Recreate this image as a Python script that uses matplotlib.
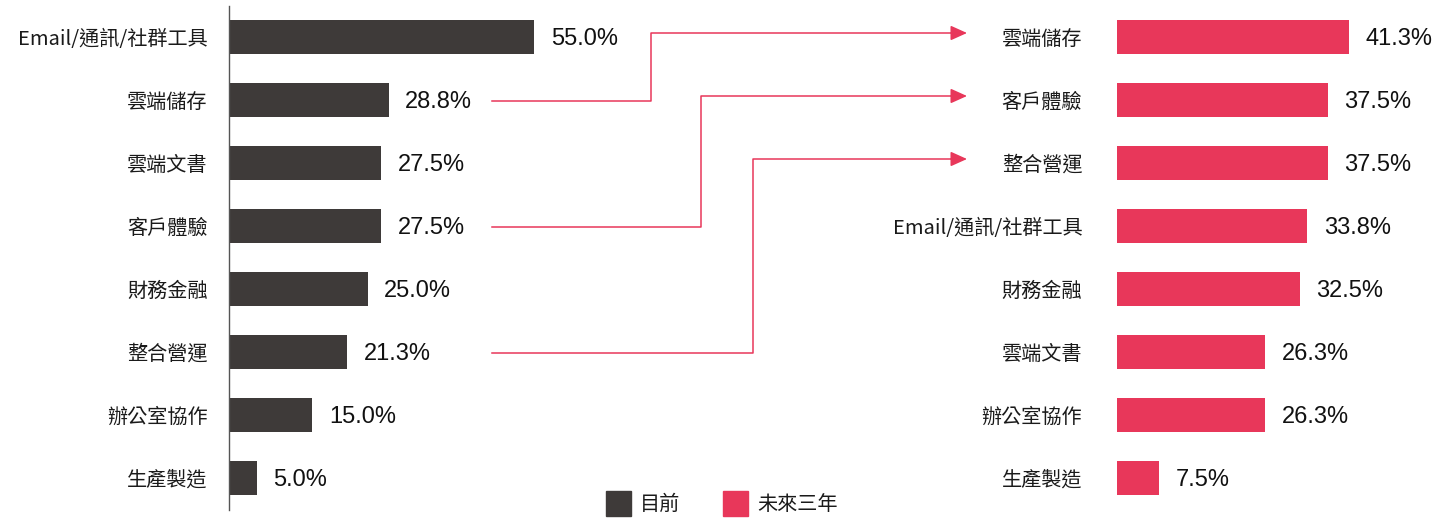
import matplotlib.pyplot as plt
from matplotlib.patches import Rectangle

plt.rcParams['font.family'] = ['Noto Sans CJK TC', 'DejaVu Sans']

# current (目前)
cur_labels = ["Email/通訊/社群工具", "雲端儲存", "雲端文書", "客戶體驗",
              "財務金融", "整合營運", "辦公室協作", "生產製造"]
cur_values = [55.0, 28.8, 27.5, 27.5, 25.0, 21.3, 15.0, 5.0]

# next three years (未來三年)
fut_labels = ["雲端儲存", "客戶體驗", "整合營運", "Email/通訊/社群工具",
              "財務金融", "雲端文書", "辦公室協作", "生產製造"]
fut_values = [41.3, 37.5, 37.5, 33.8, 32.5, 26.3, 26.3, 7.5]

# categories linked by arrows
links = ["雲端儲存", "客戶體驗", "整合營運"]

DARK = "#3e3a39"
RED = "#e8375a"
W, H = 1438, 518

fig = plt.figure(figsize=(W / 100, H / 100), dpi=100)

def px_axes(x0, y0, w, h):
    return fig.add_axes([x0 / W, 1 - (y0 + h) / H, w / W, h / H])

n = len(cur_labels)
row0, step = 37, 63
top = row0 - step / 2
hgt = step * n

ax1 = px_axes(229, top, 60 * 5.545, hgt)
ax2 = px_axes(1117, top, 50 * 5.62, hgt)

for ax, labels, values, color, pad in [(ax1, cur_labels, cur_values, DARK, 15.5),
                                       (ax2, fut_labels, fut_values, RED, 25)]:
    ys = list(range(n))
    ax.barh(ys, values, height=0.54, color=color)
    ax.set_ylim(n - 0.5, -0.5)
    ax.set_xlim(0, 60 if ax is ax1 else 50)
    ax.set_yticks(ys)
    ax.set_yticklabels(labels, fontsize=14.5, color="#1a1a1a")
    ax.tick_params(axis='y', length=0, pad=pad)
    ax.set_xticks([])
    for s in ["top", "right", "bottom"]:
        ax.spines[s].set_visible(False)
    ax.patch.set_visible(False)
    for y, v in zip(ys, values):
        ax.annotate(f"{v:.1f}%", (v, y), xytext=(12, -1.5), textcoords="offset points",
                    va="center", ha="left", fontsize=17, family="Liberation Sans",
                    color="#111111", annotation_clip=False)

ax1.spines["left"].set_color("#555555")
ax1.spines["left"].set_linewidth(1)
ax2.spines["left"].set_visible(False)

# overlay in pixel coords for connectors and legend
ov = fig.add_axes([0, 0, 1, 1])
ov.set_xlim(0, W)
ov.set_ylim(H, 0)
ov.axis("off")
ov.patch.set_visible(False)

elbows = [651, 701, 753]
for name, ex in zip(links, elbows):
    y_from = row0 + step * cur_labels.index(name) + 1
    y_to = row0 + step * fut_labels.index(name) - 4
    ov.plot([492, ex, ex, 953], [y_from, y_from, y_to, y_to], color=RED, lw=1.1)
    ov.annotate("", xy=(967, y_to), xytext=(951, y_to),
                arrowprops=dict(arrowstyle="-|>,head_length=1.0,head_width=0.45",
                                color=RED, lw=1.1, shrinkA=0, shrinkB=0))

# legend
for x0, color, text in [(606, DARK, "目前"), (723, RED, "未來三年")]:
    ov.add_patch(Rectangle((x0, 491), 25, 25, color=color))
    ov.text(x0 + 34, 504, text, va="center", ha="left", fontsize=14.5, color="#1a1a1a")

fig.savefig("out.png", dpi=100)
